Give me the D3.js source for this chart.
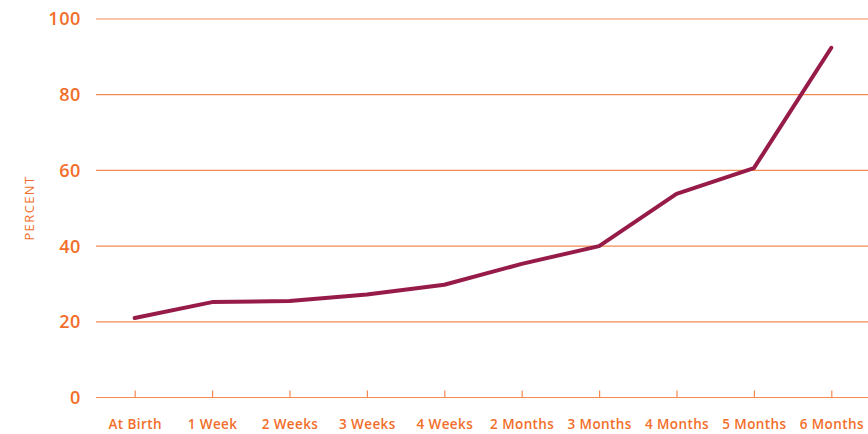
<!DOCTYPE html>
<html>
<head>
<meta charset="utf-8">
<script src="https://cdn.jsdelivr.net/npm/d3@7"></script>
<style>
    body { margin: 0; background: #fff; }
    svg { display: block; }
</style>
</head>
<body>
<svg id="chart" width="868" height="434"></svg>
<script>
const ages = ["At Birth", "1 Week", "2 Weeks", "3 Weeks", "4 Weeks",
    "2 Months", "3 Months", "4 Months", "5 Months", "6 Months"];
const percent = [21, 25.2, 25.5, 27.2, 29.8, 35.3, 40, 53.8, 60.6, 92.4];
const yTicks = [0, 20, 40, 60, 80, 100];

const ORANGE = "#f26e2a";
const GRID = "#f58a50";
const LINE = "#971b48";
const FONT = "'Open Sans', sans-serif";

const width = 868;
const height = 434;
const plotLeft = 96;
const plotTop = 19;
const plotBottom = 397.5;

const svg = d3.select("#chart");

const x = d3.scalePoint()
    .domain(ages)
    .range([plotLeft, width + 2])
    .padding(0.5);

const y = d3.scaleLinear()
    .domain([0, 100])
    .range([plotBottom, plotTop]);

// horizontal grid
svg.append("g")
    .selectAll("line")
    .data(yTicks.filter(d => d > 0))
    .join("line")
    .attr("x1", plotLeft)
    .attr("x2", width)
    .attr("y1", d => y(d))
    .attr("y2", d => y(d))
    .attr("stroke", GRID)
    .attr("stroke-width", 1.2);

// y labels
svg.append("g")
    .selectAll("text")
    .data(yTicks)
    .join("text")
    .attr("x", 81)
    .attr("y", d => y(d))
    .attr("dy", "0.36em")
    .attr("text-anchor", "end")
    .attr("fill", ORANGE)
    .attr("font-family", FONT)
    .attr("font-weight", 600)
    .attr("font-size", 18)
    .attr("letter-spacing", 0.6)
    .text(d => d);

// x axis
const xAxis = d3.axisBottom(x)
    .tickSize(-7)
    .tickPadding(22);

const gx = svg.append("g")
    .attr("transform", `translate(0, ${plotBottom})`)
    .call(xAxis);

gx.select(".domain")
    .attr("d", `M${plotLeft},0H${width}`)
    .attr("stroke", GRID)
    .attr("stroke-width", 1.2);

gx.selectAll(".tick line")
    .attr("stroke", GRID)
    .attr("stroke-width", 1.2);

gx.selectAll(".tick text")
    .attr("fill", ORANGE)
    .attr("font-family", FONT)
    .attr("font-weight", 600)
    .attr("font-size", 13.5)
    .attr("letter-spacing", 0.4);

// axis title
svg.append("text")
    .attr("transform", `translate(34, 208) rotate(-90)`)
    .attr("text-anchor", "middle")
    .attr("fill", ORANGE)
    .attr("font-family", FONT)
    .attr("font-size", 13)
    .attr("letter-spacing", 1.4)
    .text("PERCENT");

// data line
const line = d3.line()
    .x((d, i) => x(ages[i]))
    .y(d => y(d));

svg.append("path")
    .datum(percent)
    .attr("d", line)
    .attr("fill", "none")
    .attr("stroke", LINE)
    .attr("stroke-width", 4)
    .attr("stroke-linejoin", "round")
    .attr("stroke-linecap", "round");
</script>
</body>
</html>
